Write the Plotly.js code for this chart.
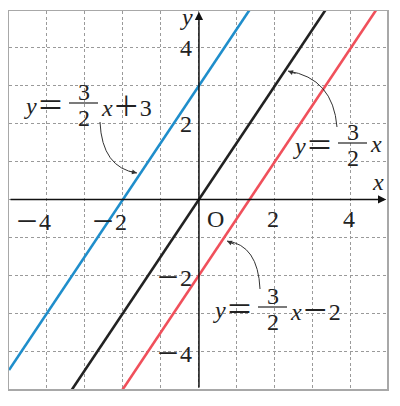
<!DOCTYPE html>
<html>
<head>
<meta charset="utf-8">
<script src="https://cdn.plot.ly/plotly-3.0.1.min.js"></script>
<style>html,body{margin:0;padding:0;background:#fff;}#chart{width:400px;height:406px;}</style>
</head>
<body>
<div id="chart"></div>
<script>
// ---- data ----
const lineX = [-5, 5];
const blueY = [-4.5, 10.5];   // y = 3/2 x + 3
const blackY = [-7.5, 7.5];   // y = 3/2 x
const redY = [-9.5, 5.5];     // y = 3/2 x - 2
const xTickVals = [-4, -2, 2, 4];
const xTickText = ['\u22124', '\u22122', '2', '4'];
const yTickVals = [4, 2, -2, -4];
const yTickText = ['4', '2', '\u22122', '\u22124'];

// ---- layout helpers (pixel -> data for label placement) ----
const ML = 9, MR = 13, MT = 11, MB = 17, W = 400, H = 406;
const XR = [-5, 4.95], YR = [-5, 4.97];
const pw = W - ML - MR, ph = H - MT - MB;
const px2x = p => XR[0] + (p - ML) / pw * (XR[1] - XR[0]);
const py2y = p => YR[1] - (p - MT) / ph * (YR[1] - YR[0]);

const FONT = '"Liberation Serif"';
const TXT = '#222';
const font = {family: FONT, size: 24, color: TXT};
const eqFont = {family: '"Noto Sans CJK JP"', size: 27, color: TXT};
// wide math-style operators (minus / plus) as in the printed figure
const op = (ch, sz) => `<span style="font-family:Noto Sans CJK JP;font-size:${sz}px">${ch}</span>`;
const mathify = (s, sz) => s.replace(/\u2212/g, op('\uFF0D', sz)).replace(/\+/g, op('\uFF0B', sz));

const traces = [
  {x: lineX, y: blueY, mode: 'lines', line: {color: '#1f8ecb', width: 2.6}, hoverinfo: 'skip'},
  {x: lineX, y: blackY, mode: 'lines', line: {color: '#222222', width: 2.6}, hoverinfo: 'skip'},
  {x: lineX, y: redY, mode: 'lines', line: {color: '#f0505b', width: 2.6}, hoverinfo: 'skip'}
];

const ann = [];
const shapes = [];

// axis arrows
ann.push({x: XR[1] - 0.02, y: 0, ax: XR[0], ay: 0, xref: 'x', yref: 'y', axref: 'x', ayref: 'y',
  text: '', showarrow: true, arrowhead: 2, arrowsize: 1.1, arrowwidth: 1.5, arrowcolor: '#111'});
ann.push({x: 0, y: YR[1] - 0.02, ax: 0, ay: YR[0], xref: 'x', yref: 'y', axref: 'x', ayref: 'y',
  text: '', showarrow: true, arrowhead: 2, arrowsize: 1.1, arrowwidth: 1.5, arrowcolor: '#111'});

// tick labels
xTickVals.forEach((v, i) => ann.push({x: v, y: 0, xref: 'x', yref: 'y', text: mathify(xTickText[i], 24),
  showarrow: false, xanchor: 'right', xshift: 6.5, yanchor: 'middle', yshift: -20, font}));
yTickVals.forEach((v, i) => ann.push({x: 0, y: v, xref: 'x', yref: 'y', text: mathify(yTickText[i], 24),
  showarrow: false, xanchor: 'right', xshift: -5, yanchor: 'middle', font}));
ann.push({x: px2x(215), y: py2y(219), xref: 'x', yref: 'y', text: 'O', showarrow: false, font});
ann.push({x: px2x(186), y: py2y(17), xref: 'x', yref: 'y', text: '<i>y</i>', showarrow: false, font});
ann.push({x: px2x(378), y: py2y(182), xref: 'x', yref: 'y', text: '<i>x</i>', showarrow: false, font});

// equation labels: y = (3/2) x ...
function eq(leftEnd, barY, barW, rest) {
  const t = (x, y, s, xa, f) => ann.push({x: px2x(x), y: py2y(y), xref: 'x', yref: 'y', text: s,
    showarrow: false, xanchor: xa, yanchor: 'middle', font: f || font});
  t(leftEnd - 26, barY + 3, '<i>y</i>', 'right');
  t(leftEnd + 1, barY, '\uFF1D', 'right', eqFont);
  const x0 = leftEnd + 4, x1 = x0 + barW, xc = (x0 + x1) / 2;
  shapes.push({type: 'line', xref: 'x', yref: 'y', x0: px2x(x0), x1: px2x(x1), y0: py2y(barY), y1: py2y(barY),
    line: {color: TXT, width: 1.2}});
  t(xc, barY - 11, '3', 'center');
  t(xc, barY + 15, '2', 'center');
  t(x1 + 1, barY + 1, mathify(rest, 27), 'left');
}
eq(65, 103, 29, '<i>x</i>+3');
eq(334, 143, 29, '<i>x</i>');
eq(254, 307, 29, '<i>x</i>\u22122');

// curved pointer arrows
function curve(p0, c, p2, tail) {
  shapes.push({type: 'path', xref: 'x', yref: 'y',
    path: `M ${px2x(p0[0])},${py2y(p0[1])} Q ${px2x(c[0])},${py2y(c[1])} ${px2x(p2[0])},${py2y(p2[1])}`,
    line: {color: '#333', width: 1}});
  ann.push({x: px2x(p2[0]), y: py2y(p2[1]), xref: 'x', yref: 'y', text: '', showarrow: true,
    ax: tail[0], ay: tail[1], arrowhead: 2, arrowsize: 1, arrowwidth: 1, arrowcolor: '#333'});
}
curve([100, 122], [102, 168], [137, 173], [-9, -2]);
curve([337, 127], [333, 78], [288, 71], [9, 3]);
curve([260, 289], [258, 245], [227, 241], [9, 4]);

const axisCommon = {showgrid: true, gridcolor: '#9a9a9a', gridwidth: 1, griddash: '3px,2.5px',
  dtick: 1, tick0: 0, zeroline: false, showticklabels: false, ticks: '',
  showline: true, mirror: true, linecolor: '#a8a8a8', linewidth: 1.5, fixedrange: true};

const layout = {
  width: W, height: H,
  margin: {l: ML, r: MR, t: MT, b: MB, pad: 0},
  paper_bgcolor: '#fff', plot_bgcolor: '#fff',
  showlegend: false,
  font: {family: FONT},
  xaxis: Object.assign({range: XR}, axisCommon),
  yaxis: Object.assign({range: YR}, axisCommon),
  annotations: ann,
  shapes: shapes
};

Plotly.newPlot('chart', traces, layout, {displayModeBar: false, staticPlot: true});
</script>
</body>
</html>
